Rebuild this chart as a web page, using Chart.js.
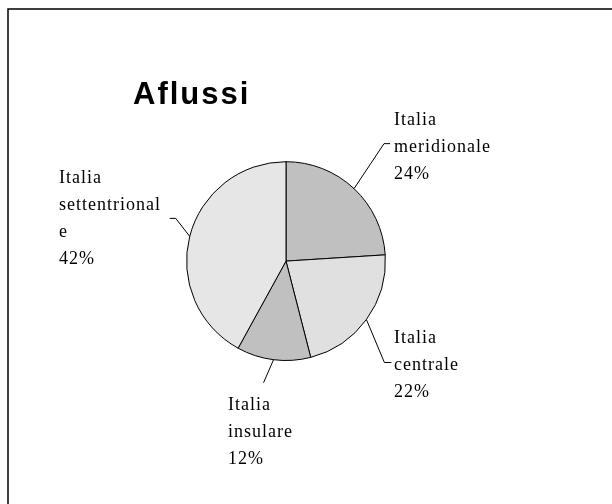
<!DOCTYPE html>
<html>
<head>
<meta charset="utf-8">
<script src="https://cdn.jsdelivr.net/npm/chart.js@4"></script>
<style>
  html, body { margin: 0; padding: 0; background: #fff; }
  #contenitore { width: 612px; height: 504px; position: relative; }
</style>
</head>
<body>
<div id="contenitore"><canvas id="afflussi"></canvas></div>
<script>
// dati
const categorie = ['Italia meridionale', 'Italia centrale', 'Italia insulare', 'Italia settentrionale'];
const valori = [24, 22, 12, 42];
// righe delle etichette come appaiono (a capo compreso)
const righeEtichette = [
  ['Italia', 'meridionale'],
  ['Italia', 'centrale'],
  ['Italia', 'insulare'],
  ['Italia', 'settentrional', 'e']
];
const colori = ['#c0c0c0', '#e0e0e0', '#c0c0c0', '#e6e6e6'];

// posizione del testo e delle linee guida (solo layout)
const posTesto = [[394, 125], [394, 343], [228, 410], [59, 183]];
const gomito = [[30, -45], [18, 43], [-10, 23], [-14, -18]];
const tacca = [6, 7, 0, -6];
const interlinea = 27;

const cornice = {
  id: 'cornice',
  beforeDraw(chart) {
    const c = chart.ctx;
    c.save();
    c.strokeStyle = '#000';
    c.lineWidth = 1.5;
    c.beginPath();
    c.moveTo(8, 504);
    c.lineTo(8, 9);
    c.lineTo(612, 9);
    c.stroke();
    c.restore();
    // spaziatura del titolo
    c.letterSpacing = '2px';
  }
};

const etichette = {
  id: 'etichette',
  afterDraw(chart) {
    const c = chart.ctx;
    const meta = chart.getDatasetMeta(0);
    const totale = valori.reduce((a, b) => a + b, 0);
    c.save();
    c.letterSpacing = '1px';
    c.strokeStyle = '#000';
    c.lineWidth = 1;
    c.fillStyle = '#000';
    c.font = '18px "Liberation Serif", "Times New Roman", serif';
    c.textAlign = 'left';
    c.textBaseline = 'alphabetic';
    meta.data.forEach(function (arco, i) {
      const p = arco.getProps(['x', 'y', 'startAngle', 'endAngle', 'outerRadius'], true);
      const medio = (p.startAngle + p.endAngle) / 2;
      const bx = p.x + Math.cos(medio) * p.outerRadius;
      const by = p.y + Math.sin(medio) * p.outerRadius;
      const gx = bx + gomito[i][0];
      const gy = by + gomito[i][1];
      c.beginPath();
      c.moveTo(bx, by);
      c.lineTo(gx, gy);
      if (tacca[i]) { c.lineTo(gx + tacca[i], gy); }
      c.stroke();
      const righe = righeEtichette[i].concat([Math.round(valori[i] / totale * 100) + '%']);
      righe.forEach(function (r, k) {
        c.fillText(r, posTesto[i][0], posTesto[i][1] + k * interlinea);
      });
    });
    c.restore();
  }
};

const ctx = document.getElementById('afflussi');
new Chart(ctx, {
  type: 'pie',
  data: {
    labels: categorie,
    datasets: [{
      data: valori,
      backgroundColor: colori,
      borderColor: '#000',
      borderWidth: 1,
      hoverOffset: 0
    }]
  },
  options: {
    responsive: true,
    maintainAspectRatio: false,
    animation: false,
    events: [],
    layout: {
      padding: { left: 133, right: 173, top: 77, bottom: 143 }
    },
    plugins: {
      legend: { display: false },
      tooltip: { enabled: false },
      title: {
        display: true,
        text: 'Aflussi',
        align: 'start',
        color: '#000',
        font: { family: '"Liberation Sans", Arial, sans-serif', size: 31, weight: 'bold', lineHeight: 1.2 },
        padding: { top: 0, bottom: 47 }
      }
    }
  },
  plugins: [cornice, etichette]
});
</script>
</body>
</html>
